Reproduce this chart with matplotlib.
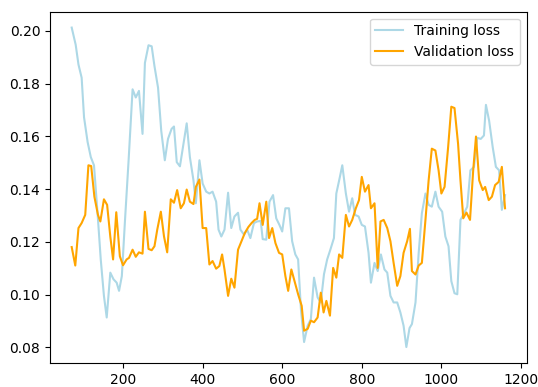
import matplotlib
matplotlib.use("Agg")
import matplotlib.pyplot as plt

# training loss
train_steps = [71, 81, 88, 96, 102, 111, 119, 127, 136, 144, 152, 159, 168, 176, 184, 190,
               197, 205, 214, 224, 232, 240, 249, 255, 264, 272, 279, 288, 296, 305, 313,
               322, 328, 335, 343, 352, 360, 368, 377, 383, 392, 400, 409, 417, 425, 434,
               440, 447, 455, 464, 472, 480, 489, 495, 504, 512, 520, 529, 537, 546, 551,
               560, 568, 577, 585, 593, 600, 608, 617, 625, 633, 640, 647, 655, 664, 672,
               680, 689, 697, 705, 713, 721, 730, 736, 745, 751, 760, 768, 776, 783, 792,
               800, 808, 817, 823, 832, 840, 848, 857, 864, 872, 880, 889, 897, 905, 912,
               920, 926, 935, 943, 951, 960, 968, 976, 985, 993, 1002, 1010, 1018, 1025,
               1033, 1040, 1048, 1057, 1065, 1073, 1082, 1090, 1099, 1107, 1112, 1120,
               1129, 1137, 1145, 1152, 1160]
train_loss = [0.2012, 0.1947, 0.1872, 0.1822, 0.1672, 0.1578, 0.1521, 0.1490, 0.1308, 0.1133,
              0.0995, 0.0913, 0.1083, 0.1058, 0.1045, 0.1014, 0.1070, 0.1283, 0.1509, 0.1778,
              0.1747, 0.1772, 0.1609, 0.1878, 0.1945, 0.1941, 0.1866, 0.1784, 0.1621, 0.1509,
              0.1590, 0.1628, 0.1637, 0.1502, 0.1486, 0.1571, 0.1649, 0.1521, 0.1433, 0.1346,
              0.1509, 0.1421, 0.1390, 0.1383, 0.1390, 0.1352, 0.1246, 0.1220, 0.1246, 0.1386,
              0.1252, 0.1296, 0.1310, 0.1246, 0.1227, 0.1246, 0.1214, 0.1271, 0.1277, 0.1279,
              0.1210, 0.1208, 0.1352, 0.1377, 0.1289, 0.1264, 0.1239, 0.1327, 0.1327, 0.1202,
              0.1152, 0.1133, 0.0945, 0.0820, 0.0882, 0.0907, 0.1064, 0.0989, 0.0970, 0.1077,
              0.1133, 0.1170, 0.1214, 0.1383, 0.1446, 0.1490, 0.1383, 0.1314, 0.1365, 0.1302,
              0.1296, 0.1264, 0.1258, 0.1158, 0.1045, 0.1120, 0.1089, 0.1152, 0.1095, 0.1083,
              0.0995, 0.0970, 0.0970, 0.0932, 0.0882, 0.0801, 0.0873, 0.0888, 0.0970, 0.1158,
              0.1308, 0.1383, 0.1340, 0.1333, 0.1390, 0.1333, 0.1314, 0.1220, 0.1183, 0.1051,
              0.1005, 0.1001, 0.1283, 0.1308, 0.1333, 0.1471, 0.1484, 0.1594, 0.1590, 0.1603,
              0.1719, 0.1659, 0.1559, 0.1484, 0.1471, 0.1321, 0.1377]

# validation loss
val_steps = [71, 80, 88, 96, 105, 113, 120, 128, 137, 143, 152, 160, 168, 175, 183, 192,
             200, 209, 215, 224, 232, 240, 249, 255, 264, 272, 279, 286, 295, 303, 311,
             320, 328, 336, 345, 353, 360, 368, 377, 383, 392, 400, 409, 417, 425, 434,
             442, 449, 455, 464, 472, 480, 489, 497, 506, 515, 523, 531, 537, 543, 551,
             560, 567, 575, 583, 592, 600, 608, 615, 623, 632, 640, 649, 655, 664, 672,
             680, 689, 697, 704, 711, 720, 728, 736, 743, 751, 760, 768, 776, 785, 793,
             800, 808, 817, 823, 832, 840, 847, 855, 864, 872, 880, 889, 897, 905, 914,
             921, 926, 935, 943, 951, 960, 968, 976, 985, 993, 1000, 1008, 1017, 1025,
             1033, 1042, 1048, 1055, 1063, 1072, 1080, 1087, 1095, 1104, 1110, 1119,
             1127, 1135, 1144, 1152, 1160]
val_loss = [0.1180, 0.1110, 0.1252, 0.1271, 0.1302, 0.1490, 0.1487, 0.1371, 0.1302, 0.1277,
            0.1361, 0.1340, 0.1220, 0.1133, 0.1312, 0.1145, 0.1111, 0.1133, 0.1139, 0.1170,
            0.1143, 0.1160, 0.1155, 0.1314, 0.1173, 0.1168, 0.1183, 0.1246, 0.1314, 0.1220,
            0.1160, 0.1361, 0.1348, 0.1396, 0.1327, 0.1346, 0.1398, 0.1352, 0.1343, 0.1408,
            0.1436, 0.1252, 0.1252, 0.1114, 0.1127, 0.1098, 0.1108, 0.1152, 0.1095, 0.0995,
            0.1060, 0.1026, 0.1170, 0.1200, 0.1233, 0.1256, 0.1271, 0.1283, 0.1287, 0.1346,
            0.1264, 0.1352, 0.1214, 0.1252, 0.1195, 0.1158, 0.1152, 0.1070, 0.1014, 0.1095,
            0.1045, 0.1001, 0.0957, 0.0863, 0.0870, 0.0901, 0.0895, 0.0913, 0.1007, 0.0932,
            0.0976, 0.0920, 0.1101, 0.1064, 0.1152, 0.1139, 0.1302, 0.1258, 0.1283, 0.1327,
            0.1358, 0.1446, 0.1390, 0.1415, 0.1327, 0.1346, 0.1101, 0.1277, 0.1283, 0.1252,
            0.1202, 0.1120, 0.1033, 0.1070, 0.1158, 0.1202, 0.1249, 0.1089, 0.1076, 0.1110,
            0.1120, 0.1283, 0.1433, 0.1553, 0.1546, 0.1471, 0.1383, 0.1408, 0.1559, 0.1712,
            0.1707, 0.1571, 0.1433, 0.1289, 0.1311, 0.1283, 0.1471, 0.1599, 0.1433, 0.1396,
            0.1408, 0.1358, 0.1371, 0.1415, 0.1427, 0.1484, 0.1327]

fig = plt.figure(figsize=(5.38, 3.87), dpi=100)
ax = fig.add_axes([0.093, 0.062, 0.886, 0.908])

ax.plot(train_steps, train_loss, color='lightblue', label='Training loss')
ax.plot(val_steps, val_loss, color='orange', label='Validation loss')
ax.legend(loc='upper right')

fig.savefig('out.png', dpi=100)
